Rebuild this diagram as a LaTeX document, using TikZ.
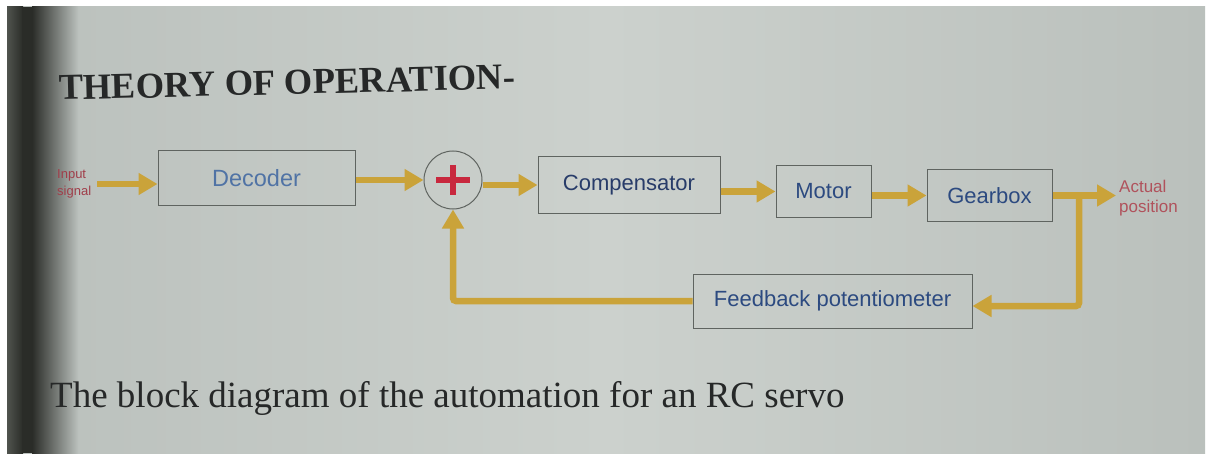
\documentclass[tikz,border=0pt]{standalone}
\usepackage{fontspec}
\setmainfont{Liberation Serif}
\newfontfamily\arialf{Liberation Sans}
\usetikzlibrary{arrows.meta}
\definecolor{pageL}{RGB}{186,192,188}
\definecolor{pageM}{RGB}{204,209,205}
\definecolor{pageR}{RGB}{186,192,188}
\definecolor{stripdark}{RGB}{42,44,40}
\definecolor{stripmid}{RGB}{80,84,78}
\definecolor{boxline}{RGB}{95,100,96}
\definecolor{boxblue}{RGB}{44,74,128}
\definecolor{gold}{RGB}{202,163,58}
\definecolor{lblred}{RGB}{160,62,74}
\definecolor{plusred}{RGB}{200,40,62}
\definecolor{inktext}{RGB}{38,40,40}
\begin{document}
\begin{tikzpicture}[x=1pt,y=-1pt,
  box/.style={draw=boxline,line width=1pt,inner sep=0pt,text=boxblue,
    font=\arialf\fontsize{22}{26}\selectfont},
  lbl/.style={text=lblred,align=left,inner sep=0pt},
  flow/.style={draw=gold,line width=6.5pt,-{Triangle[length=19pt,width=21pt]}},
  plusbar/.style={draw=plusred,line width=5.5pt}]
% background
\fill[white] (0,0) rectangle (1209,457);
\shade[left color=pageL,right color=pageR,middle color=pageM] (7,7) rectangle (1205,453);
\shade[left color=stripmid,right color=stripdark] (7,7) rectangle (23,453);
\fill[stripdark] (22,7) rectangle (33,453);
\shade[left color=stripdark,right color=pageL] (32,7) rectangle (78,453);
\useasboundingbox (0,0) rectangle (1209,457);

% title and caption
\node[anchor=base west,inner sep=0pt,rotate=1.4,text=inktext,
  font=\bfseries\fontsize{36.5}{41}\selectfont] (title) at (59,100) {THEORY OF OPERATION-};
\node[anchor=base west,inner sep=0pt,text=inktext,
  font=\fontsize{37}{42}\selectfont] (caption) at (50,407) {The block diagram of the automation for an RC servo};

% blocks
\node[box,minimum width=197pt,minimum height=55pt,font=\arialf\fontsize{23.5}{28}\selectfont,text={rgb,255:red,80;green,115;blue,165}] (dec) at (256.5,178) {Decoder};
\node[draw=boxline,line width=1pt,circle,minimum size=58pt,inner sep=0pt] (sum) at (453,180) {};
\draw[plusbar] (sum.center) +(-17,0) -- +(17,0);
\draw[plusbar] (sum.center) +(0,-15) -- +(0,15);
\node[box,minimum width=182pt,minimum height=56pt,text={rgb,255:red,40;green,60;blue,105}] (comp) at (629,185) {Compensator};
\node[box,minimum width=95pt,minimum height=51pt] (mot) at (823.5,191.5) {Motor};
\node[box,minimum width=125pt,minimum height=51pt] (gear) at (989.5,195.5) {Gearbox};
\node[box,minimum width=279pt,minimum height=54pt] (fb) at (832.5,301) {Feedback potentiometer};

% labels
\node[lbl,anchor=west,font=\arialf\fontsize{13}{17}\selectfont] (inp) at (57,184) {Input\\signal};
\node[lbl,anchor=west,inner sep=3pt,font=\arialf\fontsize{17}{20}\selectfont,text={rgb,255:red,176;green,82;blue,92}] (act) at (1116,198) {Actual\\position};
\coordinate (br) at (1079,197);
\coordinate (fbr) at (1079,306);

% connectors
\draw[flow] ([xshift=6pt]inp.east) -- (inp.east -| dec.west);
\draw[flow] (dec.east |- sum.west) -- (sum.west);
\draw[flow] (sum.east |- comp.west) -- (comp.west);
\draw[flow] (comp.east |- mot.west) -- (mot.west);
\draw[flow] (mot.east |- gear.west) -- (gear.west);
\draw[flow] (gear.east) -- (gear.east -| act.west);
\draw[flow,rounded corners=3pt] (br |- gear.east) -- (fbr) -- (fbr -| fb.east);
\draw[flow,rounded corners=3pt] (fb.west) -- (fb.west -| sum.south) -- (sum.south);
\end{tikzpicture}
\end{document}
